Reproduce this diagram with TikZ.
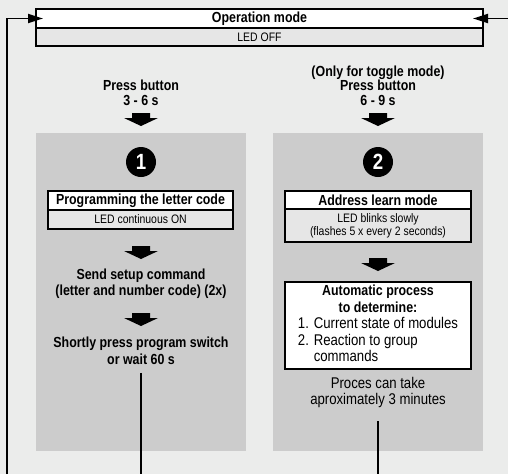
\documentclass[tikz,border=0pt]{standalone}
\usepackage{fontspec}
\setmainfont{Liberation Sans}[FakeStretch=0.85]
\usetikzlibrary{arrows.meta,positioning}
\definecolor{clBack}{HTML}{EBECEB}
\definecolor{clPanel}{HTML}{CCCCCC}
\definecolor{clRow}{HTML}{E6E6E6}
\tikzset{
  hdrbox/.style={rectangle, draw, line width=1.4pt, fill=white, outer sep=0pt,
                 inner sep=0pt, font=\bfseries\fontsize{14.6}{16}\selectfont},
  ledrow/.style={rectangle, draw, line width=1.4pt, fill=clRow, outer sep=0pt,
                 inner sep=0pt, align=center, font=\fontsize{12.3}{13.3}\selectfont},
  panel/.style={rectangle, fill=clPanel, minimum width=210pt, minimum height=318pt, inner sep=0pt},
  steptext/.style={align=center, inner sep=1pt, font=\bfseries\fontsize{14.6}{16.5}\selectfont},
  notetext/.style={align=center, inner sep=1pt, font=\fontsize{15.5}{16.7}\selectfont},
  fatarrow/.pic={\fill (-9,0) -- (9,0) -- (9,5) -- (17,5) -- (0,13) -- (-17,5) -- (-9,5) -- cycle;},
  numdot/.style={circle, fill=black, text=white, inner sep=0pt, minimum size=30pt,
                 font=\bfseries\fontsize{22}{22}\selectfont},
  autobox/.style={rectangle, draw, line width=1.4pt, fill=white, inner sep=0pt,
                  minimum width=186pt, minimum height=87pt},
  backline/.style={line width=1.8pt, -{Triangle[length=15pt,width=9pt]}},
  exitline/.style={line width=1.8pt},
}
\begin{document}
\begin{tikzpicture}[x=1pt,y=-1pt]
  \fill[clBack] (0,0) rectangle (508,474);
  \useasboundingbox (0,0) rectangle (508,474);

  % operation mode bar
  \node[hdrbox, minimum width=447pt, minimum height=19pt] (opmode) at (259.5,18.5) {Operation mode};
  \node[ledrow, minimum width=447pt, minimum height=18pt, below=0pt of opmode] (ledoff) {LED OFF};

  % the two panels
  \node[panel] (pnlA) at (141,292) {};
  \node[panel] (pnlB) at (378,292) {};

  % left: letter code
  \node[steptext, font=\bfseries\fontsize{14.6}{15}\selectfont] (pressA) at (141,92.5) {Press button\\3 - 6 s};
  \pic (arrA1) at (141,113) {fatarrow};
  \node[numdot] (numA) at (141,162) {1};
  \node[hdrbox, minimum width=185pt, minimum height=19pt] (progcode) at (140.5,200.5) {Programming the letter code};
  \node[ledrow, minimum width=185pt, minimum height=19pt, below=0pt of progcode] (ledon) {LED continuous ON};
  \pic (arrA2) at (141,246) {fatarrow};
  \node[steptext] (sendcmd) at (141,283.5) {Send setup command\\(letter and number code) (2x)};
  \pic (arrA3) at (141,313) {fatarrow};
  \node[steptext] (shortpress) at (141,351) {Shortly press program switch\\or wait 60 s};

  % right: address learn
  \node[steptext, font=\bfseries\fontsize{14.6}{14.6}\selectfont] (pressB) at (378,85.5) {(Only for toggle mode)\\Press button\\6 - 9 s};
  \pic (arrB1) at (378,113) {fatarrow};
  \node[numdot] (numB) at (378,162) {2};
  \node[hdrbox, minimum width=186pt, minimum height=18pt] (addrmode) at (378,200) {Address learn mode};
  \node[ledrow, minimum width=186pt, minimum height=33pt, below=0pt of addrmode] (ledblink) {LED blinks slowly\\(flashes 5 x every 2 seconds)};
  \pic (arrB2) at (378,258) {fatarrow};
  \node[autobox] (autoproc) at (378,325.5) {\fontsize{15.5}{16.5}\selectfont
    \begin{tabular}{@{}l@{}}
      \multicolumn{1}{@{}c@{}}{\bfseries\fontsize{14.6}{16.5}\selectfont Automatic process}\\
      \multicolumn{1}{@{}c@{}}{\bfseries\fontsize{14.6}{16.5}\selectfont to determine:}\\
      1. Current state of modules\\
      2. Reaction to group\\
      \phantom{2. }commands
    \end{tabular}};
  \node[notetext] (proces) at (378,392.5) {Proces can take\\aproximately 3 minutes};

  % return lines
  \coordinate (footA) at (141,474);
  \coordinate (footB) at (378,474);
  \coordinate (backL) at (7,474);
  \coordinate (backR) at (508,18.5);
  \draw[exitline] ([yshift=-7pt]shortpress.south) -- (footA);
  \draw[exitline] ([yshift=-12pt]proces.south) -- (footB);
  \draw[backline] (backL) |- ([xshift=7pt]opmode.west);
  \draw[backline] (backR) -- ([xshift=-10pt]opmode.east);
\end{tikzpicture}
\end{document}
